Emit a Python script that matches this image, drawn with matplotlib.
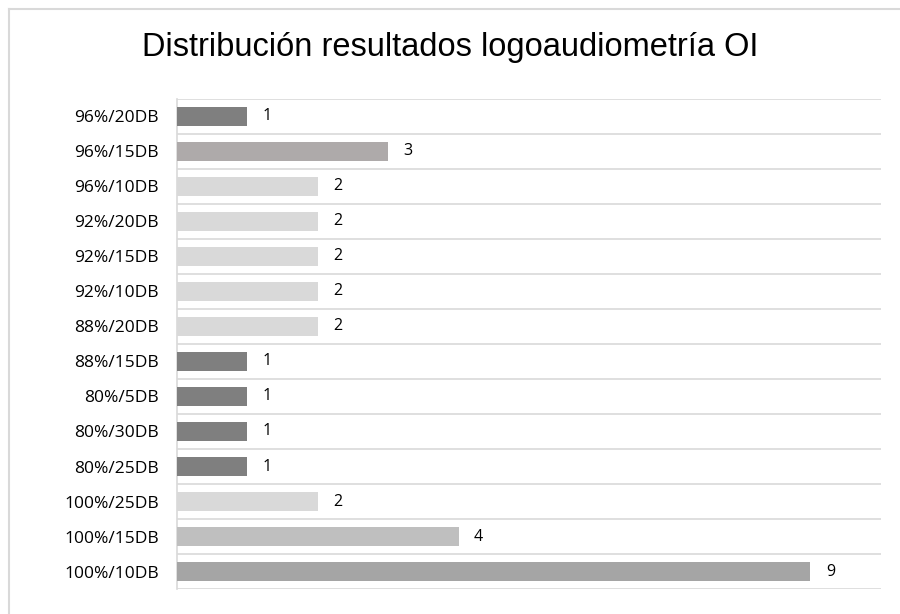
import matplotlib.pyplot as plt
from matplotlib.lines import Line2D

# datos (de arriba hacia abajo)
categorias = ['96%/20DB', '96%/15DB', '96%/10DB', '92%/20DB', '92%/15DB',
              '92%/10DB', '88%/20DB', '88%/15DB', '80%/5DB', '80%/30DB',
              '80%/25DB', '100%/25DB', '100%/15DB', '100%/10DB']
valores = [1, 3, 2, 2, 2, 2, 2, 1, 1, 1, 1, 2, 4, 9]
colores = ['#7f7f7f', '#aeaaaa', '#d9d9d9', '#d9d9d9', '#d9d9d9', '#d9d9d9',
           '#d9d9d9', '#7f7f7f', '#7f7f7f', '#7f7f7f', '#7f7f7f', '#d9d9d9',
           '#bfbfbf', '#a5a5a5']

fig = plt.figure(figsize=(9, 6.14), dpi=100)
ax = fig.add_axes([0.1967, 0.0407, 0.782, 0.7981])

pos = list(range(len(categorias)))
ax.barh(pos, valores, height=0.52, color=colores, zorder=3)

for y, v in zip(pos, valores):
    ax.text(v + 0.22, y, str(v), va='center', ha='left', fontsize=11.5,
            family='Open Sans', color='#000000')

ax.set_xlim(0, 10)
ax.set_ylim(len(categorias) - 0.5, -0.5)
ax.set_yticks(pos)
ax.set_yticklabels(categorias, fontsize=12.5, family='Open Sans')
ax.tick_params(axis='y', length=0, pad=13)
ax.set_xticks([])

# lineas horizontales entre categorias
for k in range(len(categorias) + 1):
    ax.axhline(k - 0.5, color='#d9d9d9', linewidth=1.2, zorder=1)

for s in ['top', 'right', 'bottom']:
    ax.spines[s].set_visible(False)
ax.spines['left'].set_color('#d9d9d9')
ax.spines['left'].set_linewidth(1.2)

fig.text(0.5, 0.922, 'Distribución resultados logoaudiometría OI',
         ha='center', va='center', fontsize=23.5, family='Liberation Sans')

# borde del grafico
fig.add_artist(Line2D([9 / 900, 1.0], [1 - 9 / 614, 1 - 9 / 614],
                      color='#d9d9d9', linewidth=1.5, transform=fig.transFigure))
fig.add_artist(Line2D([9 / 900, 9 / 900], [0.0, 1 - 9 / 614],
                      color='#d9d9d9', linewidth=1.5, transform=fig.transFigure))

fig.savefig('out.png', dpi=100)
